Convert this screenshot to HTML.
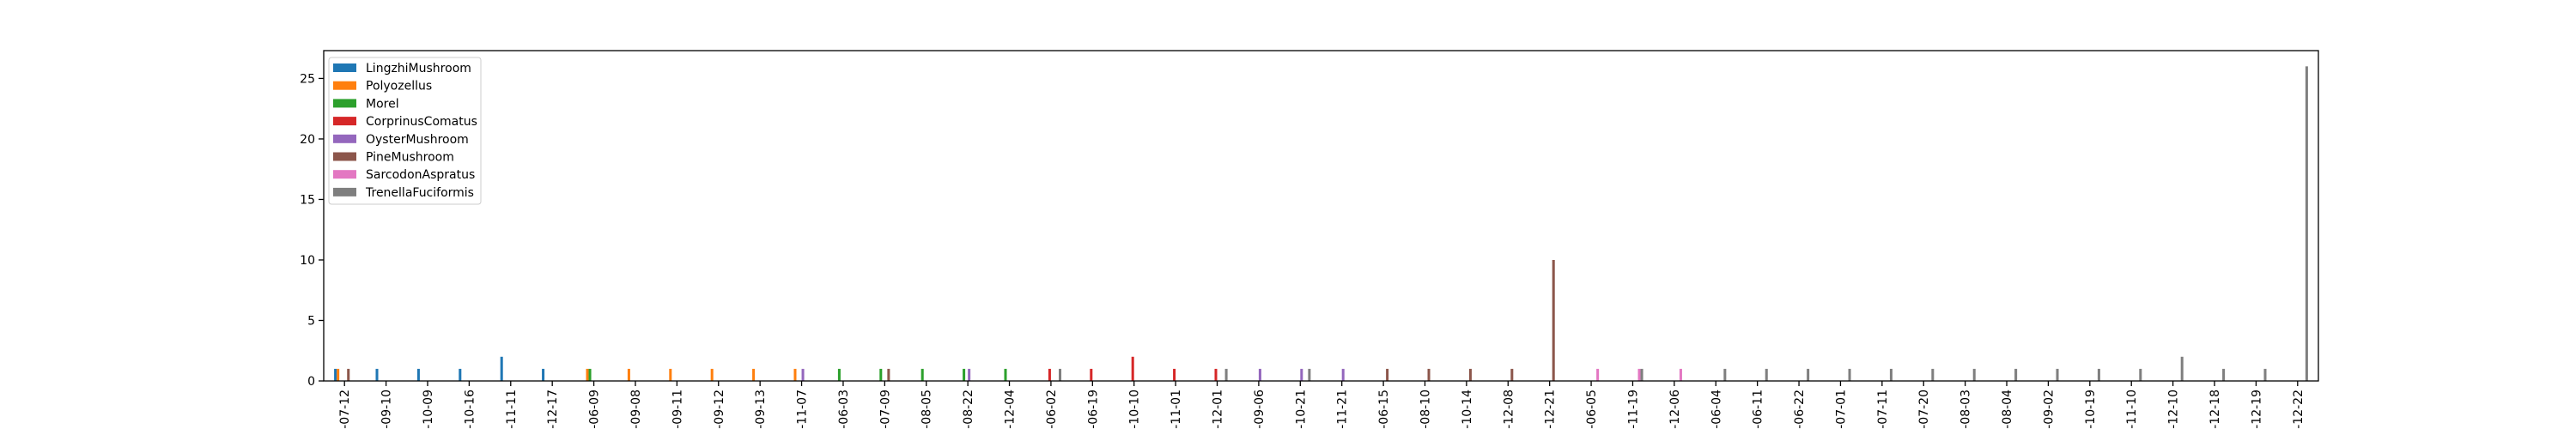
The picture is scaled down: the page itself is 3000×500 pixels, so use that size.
<!DOCTYPE html>
<html><head><meta charset="utf-8"><style>
html,body{margin:0;padding:0;background:#fff;width:3000px;height:500px;overflow:hidden;}
svg{display:block;font-family:"DejaVu Sans","Liberation Sans",sans-serif;overflow:hidden;}
</style></head><body>
<svg id="chart" width="3000" height="500" viewBox="0 0 3000 500" xmlns="http://www.w3.org/2000/svg"></svg>
<script>
const categories = ["2020-07-12","2020-09-10","2020-10-09","2020-10-16","2020-11-11","2020-12-17","2021-06-09","2021-09-08","2021-09-11","2021-09-12","2021-09-13","2021-11-07","2021-06-03","2021-07-09","2021-08-05","2021-08-22","2021-12-04","2021-06-02","2021-06-19","2021-10-10","2021-11-01","2021-12-01","2021-09-06","2021-10-21","2021-11-21","2021-06-15","2021-08-10","2021-10-14","2021-12-08","2021-12-21","2021-06-05","2021-11-19","2021-12-06","2021-06-04","2021-06-11","2021-06-22","2021-07-01","2021-07-11","2021-07-20","2021-08-03","2021-08-04","2021-09-02","2021-10-19","2021-11-10","2021-12-10","2021-12-18","2021-12-19","2021-12-22"];
const seriesNames = ["LingzhiMushroom","Polyozellus","Morel","CorprinusComatus","OysterMushroom","PineMushroom","SarcodonAspratus","TrenellaFuciformis"];
const seriesColors = ["#1f77b4","#ff7f0e","#2ca02c","#d62728","#9467bd","#8c564b","#e377c2","#7f7f7f"];
const lingzhi = [1,1,1,1,2,1,0,0,0,0,0,0,0,0,0,0,0,0,0,0,0,0,0,0,0,0,0,0,0,0,0,0,0,0,0,0,0,0,0,0,0,0,0,0,0,0,0,0];
const polyozellus = [1,0,0,0,0,0,1,1,1,1,1,1,0,0,0,0,0,0,0,0,0,0,0,0,0,0,0,0,0,0,0,0,0,0,0,0,0,0,0,0,0,0,0,0,0,0,0,0];
const morel = [0,0,0,0,0,0,1,0,0,0,0,0,1,1,1,1,1,0,0,0,0,0,0,0,0,0,0,0,0,0,0,0,0,0,0,0,0,0,0,0,0,0,0,0,0,0,0,0];
const coprinus = [0,0,0,0,0,0,0,0,0,0,0,0,0,0,0,0,0,1,1,2,1,1,0,0,0,0,0,0,0,0,0,0,0,0,0,0,0,0,0,0,0,0,0,0,0,0,0,0];
const oyster = [0,0,0,0,0,0,0,0,0,0,0,1,0,0,0,1,0,0,0,0,0,0,1,1,1,0,0,0,0,0,0,0,0,0,0,0,0,0,0,0,0,0,0,0,0,0,0,0];
const pine = [1,0,0,0,0,0,0,0,0,0,0,0,0,1,0,0,0,0,0,0,0,0,0,0,0,1,1,1,1,10,0,0,0,0,0,0,0,0,0,0,0,0,0,0,0,0,0,0];
const sarcodon = [0,0,0,0,0,0,0,0,0,0,0,0,0,0,0,0,0,0,0,0,0,0,0,0,0,0,0,0,0,0,1,1,1,0,0,0,0,0,0,0,0,0,0,0,0,0,0,0];
const tremella = [0,0,0,0,0,0,0,0,0,0,0,0,0,0,0,0,0,1,0,0,0,1,0,1,0,0,0,0,0,0,0,1,0,1,1,1,1,1,1,1,1,1,1,1,2,1,1,26];
const yTicks = [0,5,10,15,20,25];
const series = [lingzhi,polyozellus,morel,coprinus,oyster,pine,sarcodon,tremella];

const NS = "http://www.w3.org/2000/svg";
const svg = document.getElementById("chart");
const L = 377, R = 2700, T = 59, B = 444;
let maxV = 0; series.forEach(s => s.forEach(v => { if (v > maxV) maxV = v; }));
const yMax = maxV * 1.05;
const step = (R - L) / categories.length;
const barW = step * 0.5 / series.length;
function xPos(i) { return L + step * (i + 0.5); }
function yPos(v) { return B - (v / yMax) * (B - T); }
function mk(tag, attrs, parent) {
  const e = document.createElementNS(NS, tag);
  for (const k in attrs) e.setAttribute(k, attrs[k]);
  (parent || svg).appendChild(e);
  return e;
}
const barsG = mk("g", {});


series.forEach((s, si) => {
  s.forEach((v, ci) => {
    if (v <= 0) return;
    const cx = xPos(ci) + (si - (series.length - 1) / 2) * barW;
    const r = mk("rect", {x: cx - barW / 2, y: yPos(v), width: barW, height: B - yPos(v), fill: seriesColors[si]}, barsG);
    
    
  });
});
const frame = mk("rect", {x: L, y: T, width: R - L, height: B - T, fill: "none", stroke: "#000", "stroke-width": 1.3});


yTicks.forEach(t => {
  const y = yPos(t);
  mk("line", {x1: L - 6, x2: L, y1: y, y2: y, stroke: "#000", "stroke-width": 1.3});
  const tx = mk("text", {x: L - 10, y: y + 5, "text-anchor": "end", "font-size": 14, fill: "#000"});
  tx.textContent = t;
  
  
});
categories.forEach((c, i) => {
  const x = xPos(i);
  mk("line", {x1: x, x2: x, y1: B, y2: B + 6, stroke: "#000", "stroke-width": 1.3});
  const tx = mk("text", {x: 0, y: 0, transform: "translate(" + (x + 5) + "," + (B + 10) + ") rotate(-90)", "text-anchor": "end", "font-size": 14, fill: "#000"});
  tx.textContent = c;
  
  
});
const lg = mk("g", {});


mk("rect", {x: 383, y: 67, width: 177, height: 171, rx: 3, fill: "#fff", stroke: "#ccc", "stroke-width": 1}, lg);
seriesNames.forEach((n, i) => {
  const y = 79 + i * 20.7;
  const e = mk("g", {}, lg);
  
  
  mk("rect", {x: 388, y: y - 5, width: 27, height: 10, fill: seriesColors[i]}, e);
  const t = mk("text", {x: 426, y: y + 5, "font-size": 14, fill: "#000"}, e);
  t.textContent = n;
});
</script>
</body></html>
